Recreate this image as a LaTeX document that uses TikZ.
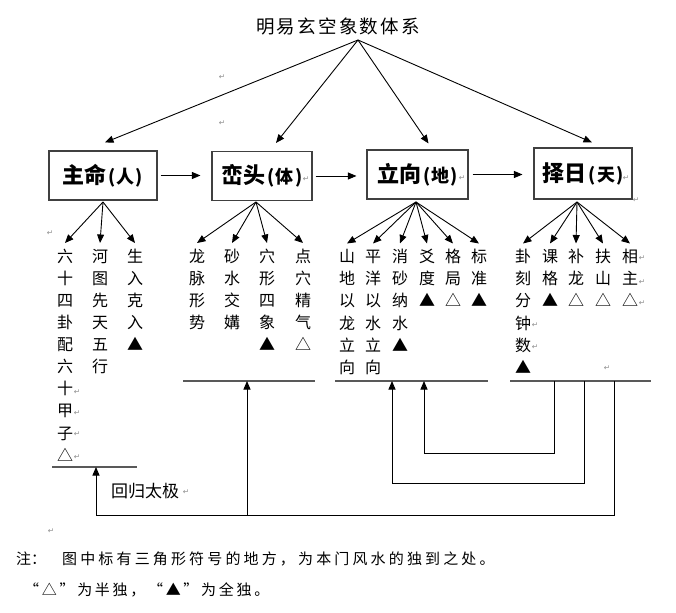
\documentclass[tikz,border=0pt]{standalone}
\usepackage{fontspec}
\setmainfont{Noto Sans CJK SC}
\newfontfamily\symfont{DejaVu Sans}
\usetikzlibrary{arrows.meta,calc}
\newcommand\bxt[2]{{\bfseries\fontsize{22}{22}\selectfont #1}\kern2pt{\bfseries\fontsize{18}{18}\selectfont (\kern1pt#2\kern1pt)}}
\newcommand\fr{\rule{0pt}{19pt}}
\begin{document}
\begin{tikzpicture}[x=1pt,y=-1pt,
  arr/.style={-{Triangle[length=8.5pt,width=7pt]}, line width=0.9pt},
  box/.style={draw=black!75, line width=1.1pt, inner sep=0, minimum height=49pt},
  col/.style={anchor=north, inner sep=0, align=center, font=\fontsize{16}{22.1}\selectfont},
  pm/.style={text=black!45, font=\symfont\fontsize{7.5}{7.5}\selectfont, inner sep=0},
  baseln/.style={draw=black!65, line width=1.2pt},
  loopln/.style={arr, draw=black},
  txt/.style={inner sep=0, font=\fontsize{15}{15}\selectfont}]
\useasboundingbox (0,0) rectangle (676,612);
\fill[white] (0,0) rectangle (676,612);

% title
\node[inner sep=0, font=\fontsize{18.5}{18.5}\selectfont\addfontfeature{LetterSpace=12}] (title) at (338,26) {明易玄空象数体系};
\coordinate (apex) at (358,40);

% main boxes
\node[box, minimum width=108pt] (zm) at (103,175.5) {\bxt{主命}{人}};
\node[box, minimum width=100pt] (lt) at (262,176) {\bxt{峦头}{体}};
\node[box, minimum width=101pt] (lx) at (417.5,174.5) {\bxt{立向}{地}};
\node[box, minimum width=98pt, minimum height=51pt] (zr) at (583,173.5) {\bxt{择日}{天}};

% arrows from title
\draw[arr] (apex) -- ($(zm.north)+(2,-8)$);
\draw[arr] (apex) -- ($(lt.north)+(14,-8)$);
\draw[arr] (apex) -- ($(lx.north)+(11,-6)$);
\draw[arr] (apex) -- ($(zr.north)+(9,-5)$);

% arrows between boxes
\draw[arr, shorten <=3pt, shorten >=11pt] (zm.east) -- (zm.east -| lt.west);
\draw[arr, shorten <=3pt, shorten >=10pt] (lt.east) -- (lt.east -| lx.west);
\draw[arr, shorten <=4pt, shorten >=11pt] (lx.east) -- (lx.east -| zr.west);

% branch apexes
\coordinate (a1) at (103,202);
\coordinate (a2) at (256,202);
\coordinate (a3) at (416,202);
\coordinate (a4) at (577,202);

% columns
\node[col] (c11) at (65,243) {\fr 六\\十\\四\\卦\\配\\六\\十\\甲\\子\\△};
\node[col] (c12) at (100,243) {\fr 河\\图\\先\\天\\五\\行};
\node[col] (c13) at (135,243) {\fr 生\\入\\克\\入\\▲};

\node[col] (c21) at (197,243) {\fr 龙\\脉\\形\\势};
\node[col] (c22) at (232,243) {\fr 砂\\水\\交\\媾};
\node[col] (c23) at (267,243) {\fr 穴\\形\\四\\象\\▲};
\node[col] (c24) at (303,243) {\fr 点\\穴\\精\\气\\△};

\node[col] (c31) at (347,243.5) {\fr 山\\地\\以\\龙\\立\\向};
\node[col] (c32) at (373,243.5) {\fr 平\\洋\\以\\水\\立\\向};
\node[col] (c33) at (400,243.5) {\fr 消\\砂\\纳\\水\\▲};
\node[col] (c34) at (427,243.5) {\fr 爻\\度\\▲};
\node[col] (c35) at (453,243.5) {\fr 格\\局\\△};
\node[col] (c36) at (479,243.5) {\fr 标\\准\\▲};

\node[col] (c41) at (523,243.5) {\fr 卦\\刻\\分\\钟\\数\\▲};
\node[col] (c42) at (550,243.5) {\fr 课\\格\\▲};
\node[col] (c43) at (576,243.5) {\fr 补\\龙\\△};
\node[col] (c44) at (603,243.5) {\fr 扶\\山\\△};
\node[col] (c45) at (630,243.5) {\fr 相\\主\\△};

% branch arrows
\foreach \c in {c11,c12,c13} \draw[arr] (a1) -- (\c.north);
\foreach \c in {c21,c22,c23,c24} \draw[arr] (a2) -- (\c.north);
\foreach \c in {c31,c32,c33,c34,c35,c36} \draw[arr] (a3) -- (\c.north);
\foreach \c in {c41,c42,c43,c44,c45} \draw[arr] (a4) -- (\c.north);

% base lines
\coordinate (l1a) at (52,467);  \coordinate (l1b) at (137,467);
\coordinate (l2a) at (183,381); \coordinate (l2b) at (315,381);
\coordinate (l3a) at (335,381); \coordinate (l3b) at (488,381);
\coordinate (l4a) at (510,381); \coordinate (l4b) at (651,381);
\draw[baseln] (l1a) -- (l1b);
\draw[baseln] (l2a) -- (l2b);
\draw[baseln] (l3a) -- (l3b);
\draw[baseln] (l4a) -- (l4b);

% feedback loops
\coordinate (f1s) at (554,381); \coordinate (f1a) at (554,453);
\coordinate (f1b) at (424,453); \coordinate (f1e) at (424,381);
\draw[loopln] (f1s) -- (f1a) -- (f1b) -- (f1e);
\coordinate (f2s) at (584,381); \coordinate (f2a) at (584,483);
\coordinate (f2b) at (392,483); \coordinate (f2e) at (392,381);
\draw[loopln] (f2s) -- (f2a) -- (f2b) -- (f2e);
\coordinate (f3s) at (614,381); \coordinate (f3a) at (614,515);
\coordinate (f3b) at (96,515);  \coordinate (f3e) at (96,467);
\draw[loopln] (f3s) -- (f3a) -- (f3b) -- (f3e);
\coordinate (f4s) at (247,515); \coordinate (f4e) at (247,381);
\draw[loopln] (f4s) -- (f4e);

\node[txt, font=\fontsize{17}{17}\selectfont] (hg) at (145,491) {回归太极};

% notes
\node[txt, anchor=west] (n0) at (16,559) {注：};
\node[txt, anchor=west, font=\fontsize{15}{15}\selectfont\addfontfeature{LetterSpace=21}] (n1) at (62,559) {图中标有三角形符号的地方，为本门风水的独到之处。};
\node[txt, anchor=west, font=\fontsize{15}{15}\selectfont\addfontfeature{LetterSpace=18}] (n2) at (24,590) {“△”为半独，“▲”为全独。};

% paragraph marks
\foreach \p [count=\i] in {(222,77),(222,123),(50,233),(306,179),(462,178),(626,178),(636,200),
  (77,392),(77,413),(77,434),(77,457),(642,258),(642,282),(642,303),(535,325),(535,347),
  (607,368),(186,492),(51,531)}
  \node[pm] (pm\i) at \p {↵};
\end{tikzpicture}
\end{document}
